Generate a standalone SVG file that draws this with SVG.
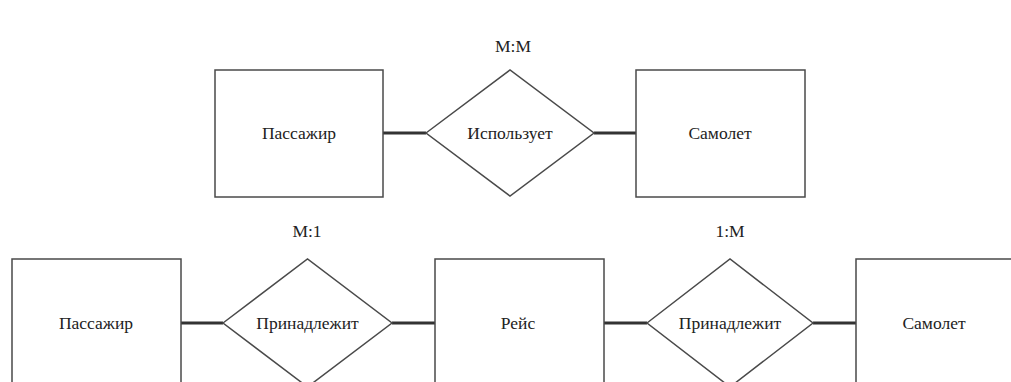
<svg xmlns="http://www.w3.org/2000/svg" width="1011" height="382" viewBox="0 0 1011 382">
<style>
.ent{fill:#fff;stroke:#4a4a4a;stroke-width:1.5}
.rel{fill:#fff;stroke:#4a4a4a;stroke-width:1.5}
.con{stroke:#333;stroke-width:2.8;fill:none}
text{font-family:"Liberation Serif","Times New Roman",serif;font-size:17.5px;fill:#222;text-anchor:middle;dominant-baseline:central}
</style>
<rect width="1011" height="382" fill="#fff"/>
<g id="connectors">
<line class="con" x1="383" y1="133" x2="426" y2="133"/>
<line class="con" x1="594" y1="133" x2="636" y2="133"/>
<line class="con" x1="181" y1="323" x2="223" y2="323"/>
<line class="con" x1="392" y1="323" x2="435" y2="323"/>
<line class="con" x1="604" y1="323" x2="647" y2="323"/>
<line class="con" x1="813" y1="323" x2="856" y2="323"/>
</g>
<g id="label-mm"><text x="513" y="46">M:M</text></g>
<g id="label-m1"><text x="307" y="231">M:1</text></g>
<g id="label-1m"><text x="730" y="231">1:M</text></g>
<g id="passenger1"><rect class="ent" x="215" y="70" width="168" height="127"/><text x="299" y="133">Пассажир</text></g>
<g id="uses"><polygon class="rel" points="426,133 510,70 594,133 510,196"/><text x="510" y="133">Использует</text></g>
<g id="plane1"><rect class="ent" x="636" y="70" width="169" height="127"/><text x="720" y="133">Самолет</text></g>
<g id="passenger2"><rect class="ent" x="12" y="259" width="169" height="140"/><text x="96" y="323">Пассажир</text></g>
<g id="belongs1"><polygon class="rel" points="223,323 307.5,259 392,323 307.5,387"/><text x="307.5" y="323">Принадлежит</text></g>
<g id="flight"><rect class="ent" x="435" y="259" width="169" height="140"/><text x="518" y="323">Рейс</text></g>
<g id="belongs2"><polygon class="rel" points="647,323 730,259 813,323 730,387"/><text x="730" y="323">Принадлежит</text></g>
<g id="plane2"><rect class="ent" x="856" y="259" width="170" height="140"/><text x="934" y="323">Самолет</text></g>
</svg>
